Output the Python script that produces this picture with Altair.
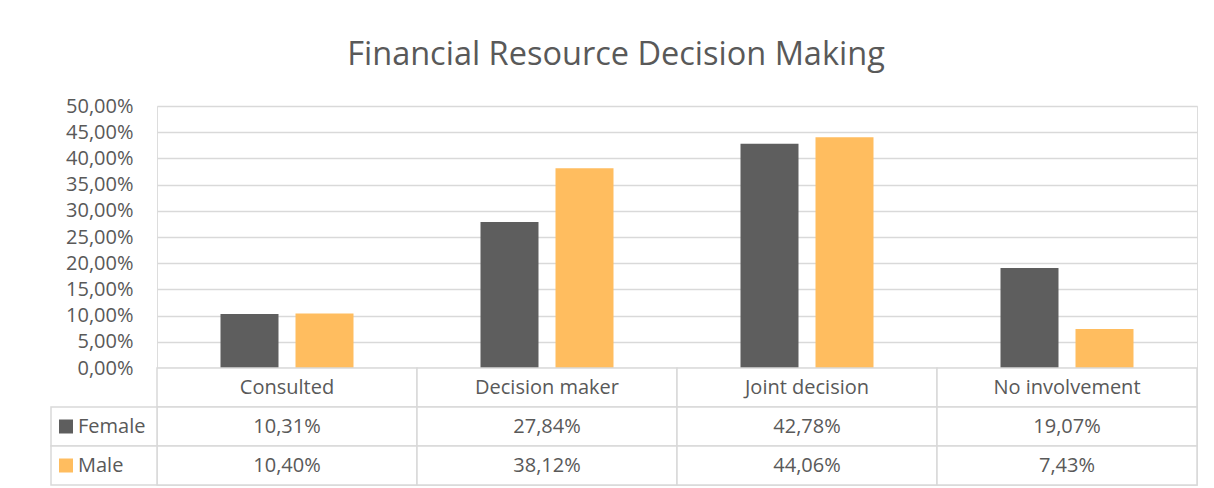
import altair as alt
import pandas as pd

categories = ["Consulted", "Decision maker", "Joint decision", "No involvement"]
series = ["Female", "Male"]
female = [10.31, 27.84, 42.78, 19.07]
male = [10.40, 38.12, 44.06, 7.43]
female_labels = ["10,31%", "27,84%", "42,78%", "19,07%"]
male_labels = ["10,40%", "38,12%", "44,06%", "7,43%"]
y_ticks = [0, 0.05, 0.10, 0.15, 0.20, 0.25, 0.30, 0.35, 0.40, 0.45, 0.50]
colors = ["#5e5e5e", "#ffbd5f"]
rows = ["header", "Female", "Male"]

FONT = "Open Sans"
GRAY = "#595959"
LINE = "#d9d9d9"
FS = 20

bars = pd.DataFrame(
    [{"category": c, "series": "Female", "value": v / 100} for c, v in zip(categories, female)]
    + [{"category": c, "series": "Male", "value": v / 100} for c, v in zip(categories, male)]
)

cells = pd.DataFrame(
    [{"category": c, "row": "header", "label": c} for c in categories]
    + [{"category": c, "row": "Female", "label": l} for c, l in zip(categories, female_labels)]
    + [{"category": c, "row": "Male", "label": l} for c, l in zip(categories, male_labels)]
)
legend_rows = pd.DataFrame({"row": series, "series": series})

xscale = alt.Scale(domain=categories, paddingInner=0, paddingOuter=0)
cscale = alt.Scale(domain=series, range=colors)
rscale = alt.Scale(domain=rows, paddingInner=0, paddingOuter=0)

top = alt.Chart(bars).mark_bar().encode(
    x=alt.X("category:N", scale=xscale, axis=None),
    xOffset=alt.XOffset("series:N", scale=alt.Scale(domain=series, paddingInner=0.2267, paddingOuter=0.8467)),
    y=alt.Y(
        "value:Q",
        scale=alt.Scale(domain=[0, 0.5], nice=False),
        axis=alt.Axis(
            values=y_ticks,
            labelExpr="replace(format(datum.value, '.2%'), '.', ',')",
            domain=False,
            ticks=False,
            grid=True,
            gridColor=LINE,
            gridWidth=1.5,
            labelPadding=24,
            labelFontSize=FS,
            labelColor=GRAY,
            labelFont=FONT,
            title=None,
        ),
    ),
    color=alt.Color("series:N", scale=cscale, legend=None),
).properties(width=1040, height=262)

base = alt.Chart(cells)
cell_rects = base.mark_rect(fill="white", stroke=LINE, strokeWidth=1.5).encode(
    x=alt.X("category:N", scale=xscale, axis=None),
    y=alt.Y("row:N", scale=rscale, axis=None),
)
cell_text = base.mark_text(fontSize=FS, color=GRAY, font=FONT).encode(
    x=alt.X("category:N", scale=xscale, axis=None),
    y=alt.Y("row:N", scale=rscale, axis=None),
    text="label:N",
)
leg = alt.Chart(legend_rows)
leg_rects = leg.mark_rect(fill="white", stroke=LINE, strokeWidth=1.5).encode(
    x=alt.value(-106), x2=alt.value(0),
    y=alt.Y("row:N", scale=rscale, axis=None),
)
leg_sq = leg.mark_square(size=196, opacity=1).encode(
    x=alt.value(-91),
    y=alt.Y("row:N", scale=rscale, axis=None),
    color=alt.Color("series:N", scale=cscale, legend=None),
)
leg_text = leg.mark_text(align="left", fontSize=FS, color=GRAY, font=FONT).encode(
    x=alt.value(-79),
    y=alt.Y("row:N", scale=rscale, axis=None),
    text="series:N",
)
bottom = alt.layer(cell_rects, cell_text, leg_rects, leg_sq, leg_text).properties(width=1040, height=117)

chart = alt.vconcat(top, bottom, spacing=0, bounds="flush").properties(
    title=alt.Title(
        "Financial Resource Decision Making",
        fontSize=32.5,
        font=FONT,
        fontWeight="normal",
        color=GRAY,
        anchor="middle",
        frame="bounds",
        offset=24,
        dx=-8,
    ),
    padding={"left": 41, "top": 31, "right": 5, "bottom": 0},
).configure_view(stroke=None).configure(background="white")

chart.save("out.html", embed_options={"renderer": "svg", "actions": False})
